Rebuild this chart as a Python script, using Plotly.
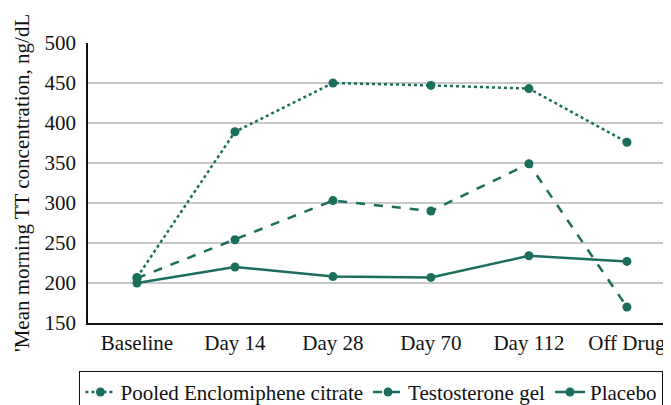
import plotly.graph_objects as go

categories = ["Baseline", "Day 14", "Day 28", "Day 70", "Day 112", "Off Drug"]
pooled_enclomiphene = [207, 389, 450, 447, 443, 376]
testosterone_gel = [206, 254, 303, 290, 349, 170]
placebo = [200, 220, 208, 207, 234, 227]
y_ticks = [150, 200, 250, 300, 350, 400, 450, 500]

color = "#1b6e5b"
font_family = "Liberation Serif, Times New Roman, serif"

fig = go.Figure()
fig.add_trace(go.Scatter(x=categories, y=pooled_enclomiphene, mode="lines+markers",
                         name="Pooled Enclomiphene citrate",
                         line=dict(color=color, width=2.5, dash="dot"),
                         marker=dict(color=color, size=9)))
fig.add_trace(go.Scatter(x=categories, y=testosterone_gel, mode="lines+markers",
                         name="Testosterone gel",
                         line=dict(color=color, width=2.5, dash="dash"),
                         marker=dict(color=color, size=9)))
fig.add_trace(go.Scatter(x=categories, y=placebo, mode="lines+markers",
                         name="Placebo",
                         line=dict(color=color, width=2.5, dash="solid"),
                         marker=dict(color=color, size=9)))

# page body has an 8px default margin, so the figure is sized to fit inside it
fig.update_layout(
    width=663, height=397,
    margin=dict(l=80, r=0, t=35, b=82, autoexpand=False),
    paper_bgcolor="white", plot_bgcolor="white",
    font=dict(family=font_family, size=21, color="#111111"),
    showlegend=True,
    legend=dict(orientation="h", x=-0.015, xanchor="left", y=-0.17, yanchor="top",
                bordercolor="#111111", borderwidth=1.2, font=dict(size=21),
                itemwidth=30, tracegroupgap=0),
    xaxis=dict(type="category", range=[-0.5, 5.45], showgrid=False, automargin=False,
               showline=True, linecolor="#111111", linewidth=1.5,
               ticks="", tickfont=dict(size=21)),
    yaxis=dict(range=[150, 500], tickvals=y_ticks, showgrid=True, automargin=False,
               gridcolor="#c8c8c8", gridwidth=1.5, zeroline=False,
               showline=True, linecolor="#111111", linewidth=1.5,
               ticks="", tickfont=dict(size=21), ticklabelstandoff=6),
    annotations=[dict(text="'Mean morning TT concentration, ng/dL", textangle=-90,
                      xref="paper", yref="paper", x=-0.113, y=0.50,
                      xanchor="center", yanchor="middle", showarrow=False,
                      font=dict(size=21, family=font_family, color="#111111"))],
)

fig.write_html("out.html")
